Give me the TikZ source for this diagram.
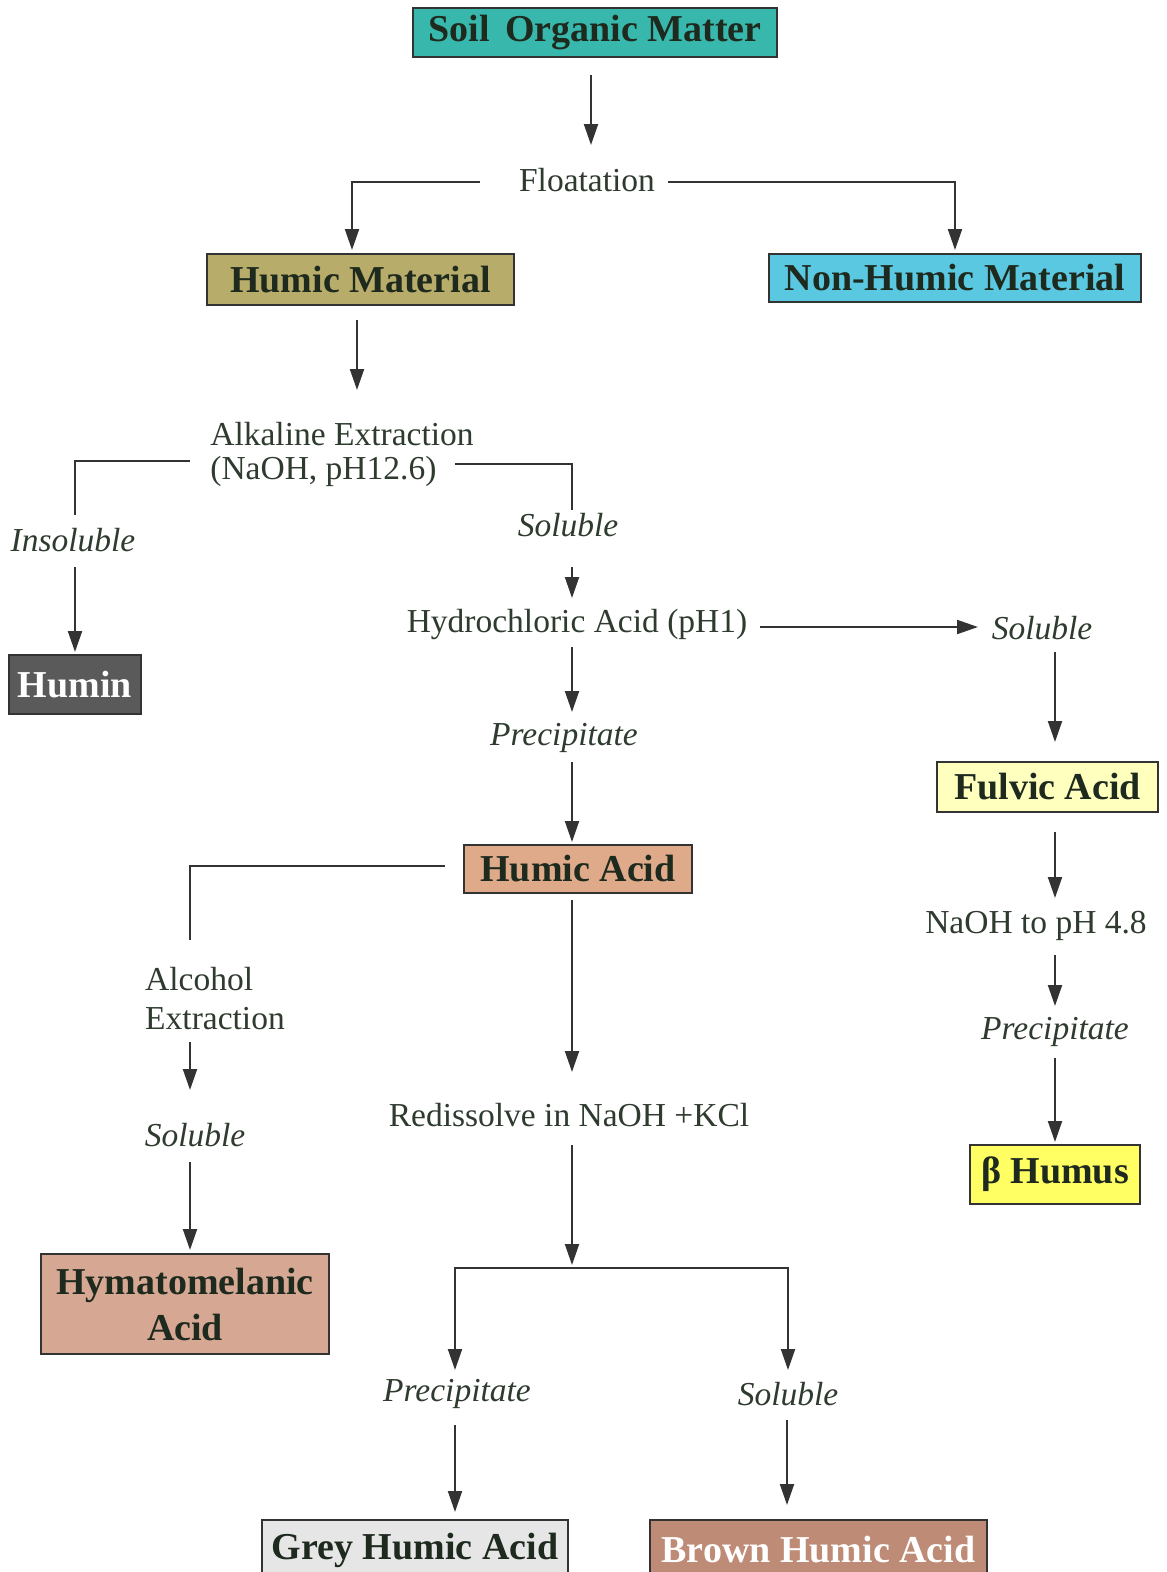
\documentclass[tikz,border=0pt]{standalone}
\usepackage{fontspec}
\setmainfont{Liberation Serif}
\usetikzlibrary{arrows.meta}
\definecolor{lnc}{HTML}{333333}
\definecolor{txc}{HTML}{2E3B2E}
\definecolor{btx}{HTML}{1E2A1E}
\definecolor{cteal}{HTML}{38B7AC}
\definecolor{colive}{HTML}{B7AC69}
\definecolor{cblue}{HTML}{5AC8E1}
\definecolor{cgrayd}{HTML}{5A5A5A}
\definecolor{ctan}{HTML}{DEAA8A}
\definecolor{chyma}{HTML}{D6A894}
\definecolor{cfulv}{HTML}{FFFFBE}
\definecolor{cbeta}{HTML}{FFFF64}
\definecolor{cgrey}{HTML}{E6E6E6}
\definecolor{cbrown}{HTML}{BE8C76}
\tikzset{
  box/.style={draw=lnc, line width=2pt, inner sep=0pt, text=btx,
    font=\fontsize{38}{46}\selectfont\bfseries, align=center},
  lbl/.style={text=txc, inner sep=0pt, font=\fontsize{33.5}{34}\selectfont},
  itl/.style={text=txc, inner sep=0pt, font=\fontsize{33.5}{34}\selectfont\itshape},
  arr/.style={draw=lnc, line width=2pt, -{Triangle[length=21pt,width=14pt]}},
  ln/.style={draw=lnc, line width=2pt},
}
\begin{document}
\begin{tikzpicture}[x=1pt,y=-1pt]
\clip (0,0) rectangle (1167,1572);
\fill[white] (0,0) rectangle (1167,1572);
% boxes
\node[box, fill=cteal, minimum width=364pt, minimum height=49pt] (soil) at (595,32.5) {Soil\hspace{0.4em}Organic Matter};
\node[box, fill=colive, minimum width=307pt, minimum height=51pt] (hm) at (360.5,279.5) {Humic Material};
\node[box, fill=cblue, minimum width=372pt, minimum height=48pt] (nhm) at (955,278) {Non-Humic Material};
\node[box, fill=cgrayd, text=white, minimum width=132pt, minimum height=59pt] (humin) at (75,684.5) {Humin};
\node[box, fill=ctan, minimum width=228pt, minimum height=48pt] (ha) at (578,869) {Humic Acid};
\node[box, fill=cfulv, minimum width=221pt, minimum height=50pt] (fa) at (1047.5,787) {Fulvic Acid};
\node[box, fill=cbeta, minimum width=170pt, minimum height=59pt] (beta) at (1055,1174.5) {β Humus};
\node[box, fill=chyma, minimum width=288pt, minimum height=100pt, font=\fontsize{38}{46}\selectfont\bfseries] (hyma) at (185,1304) {Hymatomelanic\\[0pt]\rule{0pt}{30pt}Acid};
\node[box, fill=cgrey, minimum width=306pt, minimum height=60pt] (grey) at (415,1550) {Grey Humic Acid};
\node[box, fill=cbrown, text=white, minimum width=337pt, minimum height=60pt] (brown) at (818.5,1550) {Brown Humic Acid};
% text labels
\node[lbl] (flo) at (587,180) {Floatation};
\node[lbl, align=left] (alk) at (342,454) {Alkaline Extraction\\(NaOH, pH12.6)};
\node[itl] (insol) at (73,540) {Insoluble};
\node[itl] (sol1) at (568,525) {Soluble};
\node[lbl] (hcl) at (577,624) {Hydrochloric Acid (pH1)};
\node[itl] (sol2) at (1042,628) {Soluble};
\node[itl] (prec1) at (564,738) {Precipitate};
\node[lbl, align=left, font=\fontsize{33.5}{39}\selectfont] (alc) at (215,999) {Alcohol\\Extraction};
\node[itl] (sol3) at (195,1135) {Soluble};
\node[lbl] (redis) at (569,1115) {Redissolve in NaOH +KCl};
\node[itl] (prec2) at (457,1394) {Precipitate};
\node[itl] (sol4) at (788,1394) {Soluble};
\node[lbl] (naoh) at (1036,926) {NaOH to pH 4.8};
\node[itl] (prec3) at (1055,1032) {Precipitate};
\coordinate (split) at (572,1268);
% connectors
\draw[arr] ([shift={(-4,42.5)}]soil.center) -- ([shift={(4,-35)}]flo.center);
\draw[arr] ([shift={(-107,2)}]flo.center) -| ([shift={(-8.5,-29.5)}]hm.center);
\draw[arr] ([shift={(81,2)}]flo.center) -| ([shift={(0,-28)}]nhm.center);
\draw[arr] ([shift={(-3.5,40.5)}]hm.center) -- ([shift={(15,-64)}]alk.center);
\draw[ln] ([shift={(-152,7)}]alk.center) -| ([shift={(2,-25)}]insol.center);
\draw[arr] ([shift={(2,27)}]insol.center) -- ([shift={(0,-32.5)}]humin.center);
\draw[ln] ([shift={(113,10)}]alk.center) -| ([shift={(4,-15)}]sol1.center);
\draw[arr] ([shift={(4,42)}]sol1.center) -- ([shift={(-5,-26)}]hcl.center);
\draw[arr] ([shift={(183,3)}]hcl.center) -- ([shift={(-64,-1)}]sol2.center);
\draw[arr] ([shift={(-5,23)}]hcl.center) -- ([shift={(8,-26)}]prec1.center);
\draw[arr] ([shift={(8,24)}]prec1.center) -- ([shift={(-6,-27)}]ha.center);
\draw[ln] ([shift={(-133,-3)}]ha.center) -| ([shift={(-25,-59)}]alc.center);
\draw[arr] ([shift={(-25,43)}]alc.center) -- ([shift={(-5,-45)}]sol3.center);
\draw[arr] ([shift={(-5,27)}]sol3.center) -- ([shift={(5,-54)}]hyma.center);
\draw[arr] ([shift={(-6,31)}]ha.center) -- ([shift={(3,-43)}]redis.center);
\draw[arr] ([shift={(3,30)}]redis.center) -- ([shift={(0,-3)}]split);
\draw[arr] (split) -| ([shift={(-2,-24)}]prec2.center);
\draw[arr] (split) -| ([shift={(0,-24)}]sol4.center);
\draw[arr] ([shift={(-2,31)}]prec2.center) -- ([shift={(40,-38)}]grey.center);
\draw[arr] ([shift={(-1,26)}]sol4.center) -- ([shift={(-31.5,-45)}]brown.center);
\draw[arr] ([shift={(13,24)}]sol2.center) -- ([shift={(7.5,-45)}]fa.center);
\draw[arr] ([shift={(7.5,45)}]fa.center) -- ([shift={(19,-28)}]naoh.center);
\draw[arr] ([shift={(19,29)}]naoh.center) -- ([shift={(0,-26)}]prec3.center);
\draw[arr] ([shift={(0,26)}]prec3.center) -- ([shift={(0,-32.5)}]beta.center);
\end{tikzpicture}
\end{document}
